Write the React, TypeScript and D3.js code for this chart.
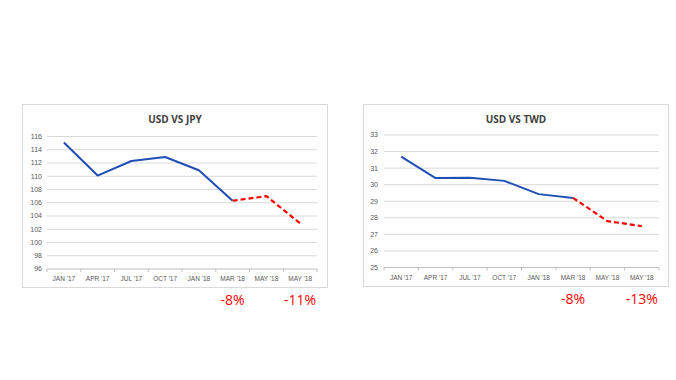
import React from "react";
import * as d3 from "d3";

const categories = ["JAN '17", "APR '17", "JUL '17", "OCT '17", "JAN '18", "MAR '18", "MAY '18", "MAY '18"];
const jpyValues = [115.1, 110.1, 112.3, 112.9, 110.9, 106.3, 107.0, 102.9];
const twdValues = [31.7, 30.4, 30.42, 30.23, 29.43, 29.2, 27.8, 27.5];
const jpyTicks = [96, 98, 100, 102, 104, 106, 108, 110, 112, 114, 116];
const twdTicks = [25, 26, 27, 28, 29, 30, 31, 32, 33];
const jpyChanges = ["-8%", "-11%"];
const twdChanges = ["-8%", "-13%"];
const forecastStart = 5; // index where dashed forecast begins

type ChartProps = {
  title: string;
  values: number[];
  ticks: number[];
  changes: string[];
  box: { x: number; y: number; w: number; h: number };
  plot: { x0: number; x1: number; y0: number; y1: number };
  tickLabelX: number;
};

function Chart({ title, values, ticks, changes, box, plot, tickLabelX }: ChartProps) {
  const x = d3.scaleBand<number>().domain(d3.range(categories.length)).range([plot.x0, plot.x1]);
  const y = d3.scaleLinear().domain([ticks[0], ticks[ticks.length - 1]]).range([plot.y1, plot.y0]);
  const cx = (i: number) => (x(i) as number) + x.bandwidth() / 2;
  const line = d3.line<number>().x((_, i) => cx(i)).y((d) => y(d));
  const solid = values.slice(0, forecastStart + 1);
  const dashed = values.slice(forecastStart);
  const dashedLine = d3.line<number>().x((_, i) => cx(i + forecastStart)).y((d) => y(d));
  return (
    <g>
      <rect x={box.x} y={box.y} width={box.w} height={box.h} fill="#fff" stroke="#d9d9d9" strokeWidth={1} />
      <text x={box.x + box.w / 2} y={box.y + 18} textAnchor="middle" fontFamily="'Open Sans', sans-serif" fontWeight="bold" fontSize={10} fill="#404040">{title}</text>
      {ticks.map((t) => (
        <g key={t}>
          {t !== ticks[0] && <line x1={plot.x0} x2={plot.x1} y1={y(t)} y2={y(t)} stroke="#d9d9d9" strokeWidth={1} />}
          <text x={tickLabelX} y={y(t)} dy="0.35em" textAnchor="end" fontFamily="'Liberation Sans', sans-serif" fontSize={7} fill="#595959">{t}</text>
        </g>
      ))}
      <line x1={plot.x0} x2={plot.x1} y1={plot.y1} y2={plot.y1} stroke="#bfbfbf" strokeWidth={1} />
      {d3.range(categories.length + 1).map((i) => {
        const xx = plot.x0 + i * x.step();
        return <line key={i} x1={xx} x2={xx} y1={plot.y1} y2={plot.y1 + 3} stroke="#bfbfbf" strokeWidth={1} />;
      })}
      {categories.map((c, i) => (
        <text key={i} x={cx(i)} y={plot.y1 + 12} textAnchor="middle" fontFamily="'Liberation Sans', sans-serif" fontSize={6.5} fill="#595959">{c}</text>
      ))}
      <path d={line(solid) || ""} fill="none" stroke="#1f4fb4" strokeWidth={2} strokeLinejoin="round" />
      <path d={dashedLine(dashed) || ""} fill="none" stroke="#ff0000" strokeWidth={2.2} strokeDasharray="5,3" />
      {changes.map((c, k) => (
        <text key={k} x={cx(forecastStart + k * 2)} y={box.y + box.h + 17} textAnchor="middle" fontFamily="'Open Sans', sans-serif" fontSize={14} fill="#ff0000">{c}</text>
      ))}
    </g>
  );
}

export default function App() {
  return (
    <svg width={676} height={380} style={{ position: "absolute", left: 0, top: 0, background: "#fff" }}>
      <rect x={0} y={0} width={676} height={380} fill="#fff" />
      <Chart
        title="USD VS JPY"
        values={jpyValues}
        ticks={jpyTicks}
        changes={jpyChanges}
        box={{ x: 22.5, y: 104.5, w: 305, h: 183 }}
        plot={{ x0: 47, x1: 317, y0: 136.5, y1: 269 }}
        tickLabelX={42}
      />
      <Chart
        title="USD VS TWD"
        values={twdValues}
        ticks={twdTicks}
        changes={twdChanges}
        box={{ x: 363.5, y: 104.5, w: 305, h: 182 }}
        plot={{ x0: 384, x1: 659, y0: 135, y1: 267.5 }}
        tickLabelX={378}
      />
    </svg>
  );
}
